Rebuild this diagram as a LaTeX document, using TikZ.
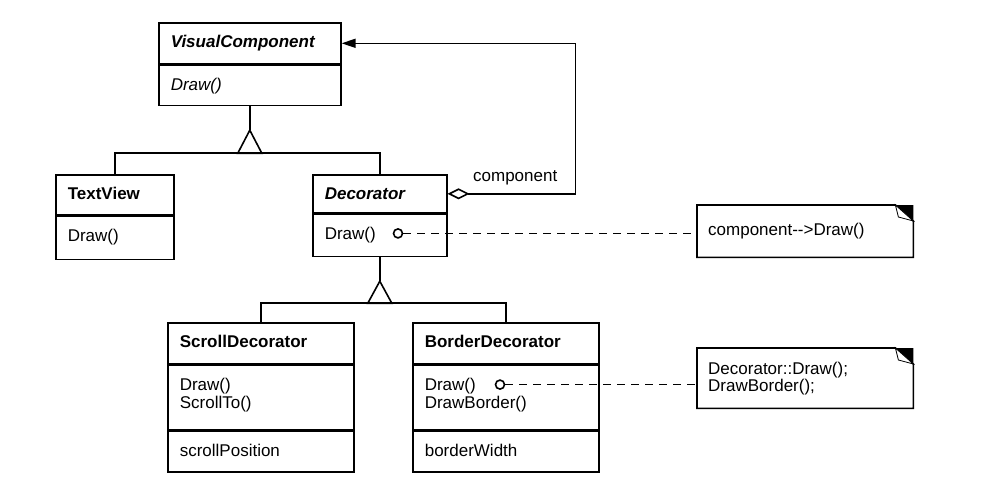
\documentclass[tikz,border=0pt]{standalone}
\usepackage{fontspec}
\setmainfont{Liberation Sans}
\usetikzlibrary{arrows.meta}
\usetikzlibrary{calc}

\tikzset{
  compart/.style={draw, line width=1.6pt, anchor=north west, inner xsep=12pt,
    inner ysep=0pt, text height=25pt, align=left,
    font=\fontsize{17}{18}\selectfont},
  notebox/.style={anchor=north west, inner xsep=11pt, inner ysep=0pt,
    text width=194pt, align=left, font=\fontsize{17}{15.5}\selectfont},
  dot/.style={circle, draw, line width=1.6pt, inner sep=0pt, minimum size=9pt, fill=white},
  link/.style={line width=1.6pt},
  dashlink/.style={line width=1.6pt, dash pattern=on 8pt off 6pt},
}

\begin{document}
\begin{tikzpicture}[x=1pt,y=-1pt]
      \useasboundingbox (0,0) rectangle (982,490);

      %classes
      \node[compart, text width=158pt, text depth=16pt] (vc) at (158,22) {\bfseries\itshape VisualComponent};
      \node[compart, text width=158pt, text depth=15pt] (vcops) at (vc.south west) {\itshape Draw()};

      \node[compart, text width=94pt, text depth=15pt] (tv) at (55,174) {\bfseries TextView};
      \node[compart, text width=94pt, text depth=18pt] (tvops) at (tv.south west) {Draw()};

      \node[compart, text width=110pt, text depth=13pt] (dec) at (312,174) {\bfseries\itshape Decorator};
      \node[compart, text width=110pt, text depth=17pt] (decops) at (dec.south west) {Draw()};

      \node[compart, text width=162pt, text depth=16pt] (sd) at (167,322) {\bfseries ScrollDecorator};
      \node[compart, text width=162pt, text depth=39pt] (sdops) at (sd.south west) {Draw()\\ScrollTo()};
      \node[compart, text width=162pt, text depth=16pt] (sdattr) at (sdops.south west) {scrollPosition};

      \node[compart, text width=162pt, text depth=16pt] (bd) at (412,322) {\bfseries BorderDecorator};
      \node[compart, text width=162pt, text depth=39pt] (bdops) at (bd.south west) {Draw()\\DrawBorder()};
      \node[compart, text width=162pt, text depth=16pt] (bdattr) at (bdops.south west) {borderWidth};

      %notes
      \node[notebox, minimum height=52pt] (note1) at (697,205) {component-{}->Draw()};
      \node[notebox, minimum height=60pt] (note2) at (697,348) {Decorator::Draw();\\DrawBorder();};

      \foreach \n in {note1,note2} {
        \draw[link] (\n.north west) -- ([xshift=-18pt]\n.north east) -- ([yshift=-16pt]\n.north east)
          -- (\n.south east) -- (\n.south west) -- cycle;
        \fill ([xshift=-18pt]\n.north east) -- (\n.north east) -- ([yshift=-16pt]\n.north east) -- cycle;
        \filldraw[fill=white, line width=0.8pt] ([xshift=-18pt]\n.north east) -- ([xshift=-15pt,yshift=-12pt]\n.north east)
          -- ([yshift=-16pt]\n.north east) -- cycle;
      }

      % inheritance from VisualComponent
      \coordinate (vcbus) at ($(vcops.south)+(0,47)$);
      \draw[link] (vcops.south) -- ($(vcbus)+(0,-23)$);
      \draw[link] (vcbus) ++(-12,0) -- ++(12,-23) -- ++(12,23) -- cycle;
      \draw[link] (tv.north) |- (vcbus);
      \draw[link] (dec.north) |- (vcbus);

      % inheritance from Decorator
      \coordinate (decbus) at ($(decops.south)+(0,46)$);
      \draw[link] (decops.south) -- ($(decbus)+(0,-22)$);
      \draw[link] (decbus) ++(-12,0) -- ++(12,-22) -- ++(12,22) -- cycle;
      \draw[link] (sd.north) |- (decbus);
      \draw[link] (bd.north) |- (decbus);

      % aggregation
      \coordinate (agg) at ($(dec.east)+(128,0)$);
      \draw[link, {Diamond[open,length=22pt,width=11pt]}-{Triangle[length=14pt,width=9pt]}]
        (dec.east) -- (agg) |- (vc.east);
      \node[anchor=base west, font=\fontsize{17}{18}\selectfont] (role) at ($(dec.east)+(22,-12)$) {component};

      % note connections
      \node[dot] (decdot) at ($(decops.west)+(86,-2)$) {};
      \node[dot] (bddot) at ($(bdops.north west)+(88,20)$) {};
      \draw[dashlink] (decdot) -- (decdot -| note1.west);
      \draw[dashlink] (bddot) -- (bddot -| note2.west);
\end{tikzpicture}
\end{document}
